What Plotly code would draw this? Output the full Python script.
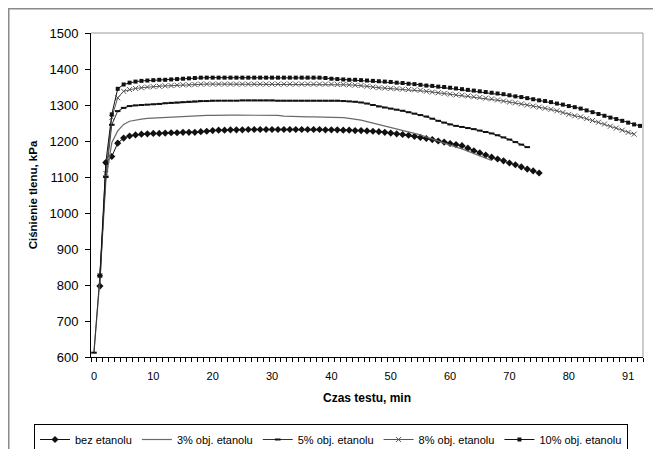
import plotly.graph_objects as go

# category index (minute of test)
x_tick_positions = [0, 10, 20, 30, 40, 50, 60, 70, 80, 90]
x_tick_labels = ["0", "10", "20", "30", "40", "50", "60", "70", "80", "91"]

# series: start category index + values (kPa)
bez_start = 1
bez_vals = [797, 1140, 1157, 1194, 1208, 1214, 1217, 1219, 1220, 1221,
            1221, 1222, 1223, 1223, 1224, 1224, 1224, 1226, 1227, 1229,
            1230, 1230, 1231, 1231, 1231, 1232, 1232, 1232, 1232, 1232,
            1232, 1232, 1232, 1232, 1232, 1232, 1232, 1232, 1231, 1231,
            1231, 1230, 1230, 1229, 1229, 1228, 1227, 1226, 1224, 1222,
            1220, 1218, 1216, 1213, 1210, 1207, 1204, 1200, 1197, 1193,
            1190, 1187, 1180, 1173, 1167, 1161, 1155, 1150, 1145, 1139,
            1134, 1128, 1122, 1117, 1111]

p3_start = 0
p3_vals = [615, 815, 1090, 1195, 1228, 1246, 1255, 1259, 1261, 1263, 1264,
           1265, 1265, 1266, 1267, 1268, 1269, 1270, 1270, 1271, 1271,
           1272, 1272, 1272, 1272, 1272, 1272, 1272, 1272, 1272, 1271,
           1271, 1269, 1268, 1268, 1268, 1267, 1267, 1267, 1266, 1266,
           1265, 1265, 1263, 1261, 1258, 1254, 1250, 1246, 1243, 1239,
           1235, 1231, 1227, 1222, 1217, 1211, 1205, 1199, 1193, 1188,
           1183, 1178, 1172, 1166, 1160, 1153, 1146]

p5_start = 0
p5_vals = [612, 826, 1100, 1245, 1283, 1292, 1297, 1299, 1300, 1301, 1302,
           1303, 1305, 1306, 1307, 1308, 1309, 1310, 1311, 1311, 1312,
           1312, 1312, 1312, 1312, 1313, 1313, 1313, 1313, 1313, 1313,
           1312, 1312, 1312, 1312, 1312, 1312, 1312, 1312, 1312, 1312,
           1312, 1311, 1310, 1309, 1307, 1304, 1300, 1296, 1293, 1290,
           1287, 1284, 1280, 1276, 1272, 1268, 1262, 1256, 1251, 1246,
           1242, 1239, 1236, 1233, 1229, 1225, 1221, 1216, 1210, 1204,
           1197, 1190, 1183]

p8_start = 1
p8_vals = [826, 1110, 1265, 1320, 1338, 1343, 1346, 1348, 1350, 1351,
           1352, 1353, 1354, 1355, 1356, 1356, 1357, 1358, 1358, 1358,
           1358, 1358, 1358, 1358, 1358, 1358, 1358, 1358, 1358, 1358,
           1358, 1358, 1358, 1358, 1358, 1358, 1358, 1358, 1358, 1358,
           1357, 1357, 1356, 1355, 1354, 1352, 1350, 1348, 1347, 1346,
           1345, 1344, 1343, 1342, 1341, 1338, 1336, 1334, 1332, 1330,
           1328, 1327, 1325, 1323, 1321, 1319, 1317, 1314, 1311, 1308,
           1306, 1303, 1300, 1297, 1294, 1291, 1288, 1284, 1279, 1274,
           1270, 1267, 1262, 1257, 1252, 1247, 1241, 1236, 1230, 1224,
           1219]

p10_start = 1
p10_vals = [826, 1140, 1274, 1345, 1357, 1362, 1365, 1367, 1368, 1369,
            1370, 1370, 1371, 1372, 1373, 1374, 1375, 1376, 1376, 1376,
            1376, 1376, 1376, 1376, 1376, 1376, 1376, 1376, 1376, 1376,
            1376, 1376, 1376, 1376, 1376, 1376, 1376, 1376, 1375, 1373,
            1372, 1371, 1370, 1370, 1369, 1368, 1367, 1366, 1365, 1364,
            1362, 1361, 1359, 1358, 1356, 1354, 1353, 1351, 1350, 1348,
            1346, 1344, 1342, 1340, 1338, 1336, 1334, 1332, 1330, 1327,
            1324, 1322, 1319, 1316, 1313, 1311, 1308, 1304, 1301, 1297,
            1294, 1290, 1285, 1280, 1275, 1270, 1265, 1261, 1256, 1251,
            1246, 1242]

series_names = ["bez etanolu", "3% obj. etanolu", "5% obj. etanolu",
                "8% obj. etanolu", "10% obj. etanolu"]


def xs(start, vals):
    return list(range(start, start + len(vals)))


fig = go.Figure()
fig.add_trace(go.Scatter(
    x=xs(bez_start, bez_vals), y=bez_vals, name=series_names[0], mode="lines+markers",
    line=dict(color="#111111", width=1),
    marker=dict(symbol="diamond", size=5.5, color="#111111")))
fig.add_trace(go.Scatter(
    x=xs(p3_start, p3_vals), y=p3_vals, name=series_names[1], mode="lines",
    line=dict(color="#6a6a6a", width=1.2)))
fig.add_trace(go.Scatter(
    x=xs(p5_start, p5_vals), y=p5_vals, name=series_names[2], mode="lines+markers",
    line=dict(color="#333333", width=1),
    marker=dict(symbol="line-ew", size=4, line=dict(color="#111111", width=2))))
fig.add_trace(go.Scatter(
    x=xs(p8_start, p8_vals), y=p8_vals, name=series_names[3], mode="lines+markers",
    line=dict(color="#555555", width=1),
    marker=dict(symbol="x-thin", size=5, line=dict(color="#555555", width=1))))
fig.add_trace(go.Scatter(
    x=xs(p10_start, p10_vals), y=p10_vals, name=series_names[4], mode="lines+markers",
    line=dict(color="#111111", width=1),
    marker=dict(symbol="square", size=4, color="#111111")))

L, R, T, B = 91, 10, 33, 92
W, H = 653, 449
pw, ph = W - L - R, H - T - B

shapes = [
    # plot area top/right border (gray)
    dict(type="line", xref="paper", yref="paper", x0=0, x1=1, y0=1, y1=1,
         line=dict(color="#9a9a9a", width=1)),
    dict(type="line", xref="paper", yref="paper", x0=1, x1=1, y0=0, y1=1,
         line=dict(color="#9a9a9a", width=1)),
]

# outer chart frame: a bordered empty annotation whose left/top edges sit at 8 px
frame = dict(text="", showarrow=False, xref="paper", yref="paper",
             x=(8 - L) / pw, xanchor="left", y=1 + (T - 8) / ph, yanchor="top",
             width=700, height=500, bordercolor="#8a8a8a", borderwidth=1.5,
             borderpad=0)

fig.update_layout(
    width=W, height=H,
    margin=dict(l=L, r=R, t=T, b=B, autoexpand=False),
    paper_bgcolor="white", plot_bgcolor="white",
    font=dict(family="Arial, Liberation Sans, sans-serif", color="black"),
    shapes=shapes,
    annotations=[frame],
    showlegend=True,
    legend=dict(orientation="h", xref="paper", yref="paper",
                x=(34 - L) / pw, xanchor="left",
                y=-(424 - (H - B)) / ph, yanchor="top",
                bordercolor="black", borderwidth=1,
                font=dict(size=11, family="Arial, Liberation Sans, sans-serif"),
                itemwidth=30, tracegroupgap=0),
    xaxis=dict(range=[-0.5, 92.5], tickmode="array", tickvals=x_tick_positions,
               ticktext=x_tick_labels, ticks="", showgrid=False, zeroline=False,
               showline=True, linecolor="black", linewidth=1,
               tickfont=dict(size=11), ticklabelstandoff=9,
               minor=dict(tickmode="linear", tick0=-0.5, dtick=1, ticks="outside",
                          ticklen=4, tickcolor="black", showgrid=False),
               title=dict(text="<b>Czas testu, min</b>", font=dict(size=12), standoff=12)),
    yaxis=dict(range=[600, 1500], tickmode="linear", tick0=600, dtick=100,
               ticks="outside", ticklen=5, tickcolor="black",
               showgrid=False, zeroline=False,
               showline=True, linecolor="black", linewidth=1,
               tickfont=dict(size=13), ticklabelstandoff=4,
               title=dict(text="<b>Ciśnienie tlenu, kPa</b>", font=dict(size=11.5), standoff=9)),
)

fig.write_html("out.html", config={"displayModeBar": False},
               post_script="document.body.style.margin='0';")
